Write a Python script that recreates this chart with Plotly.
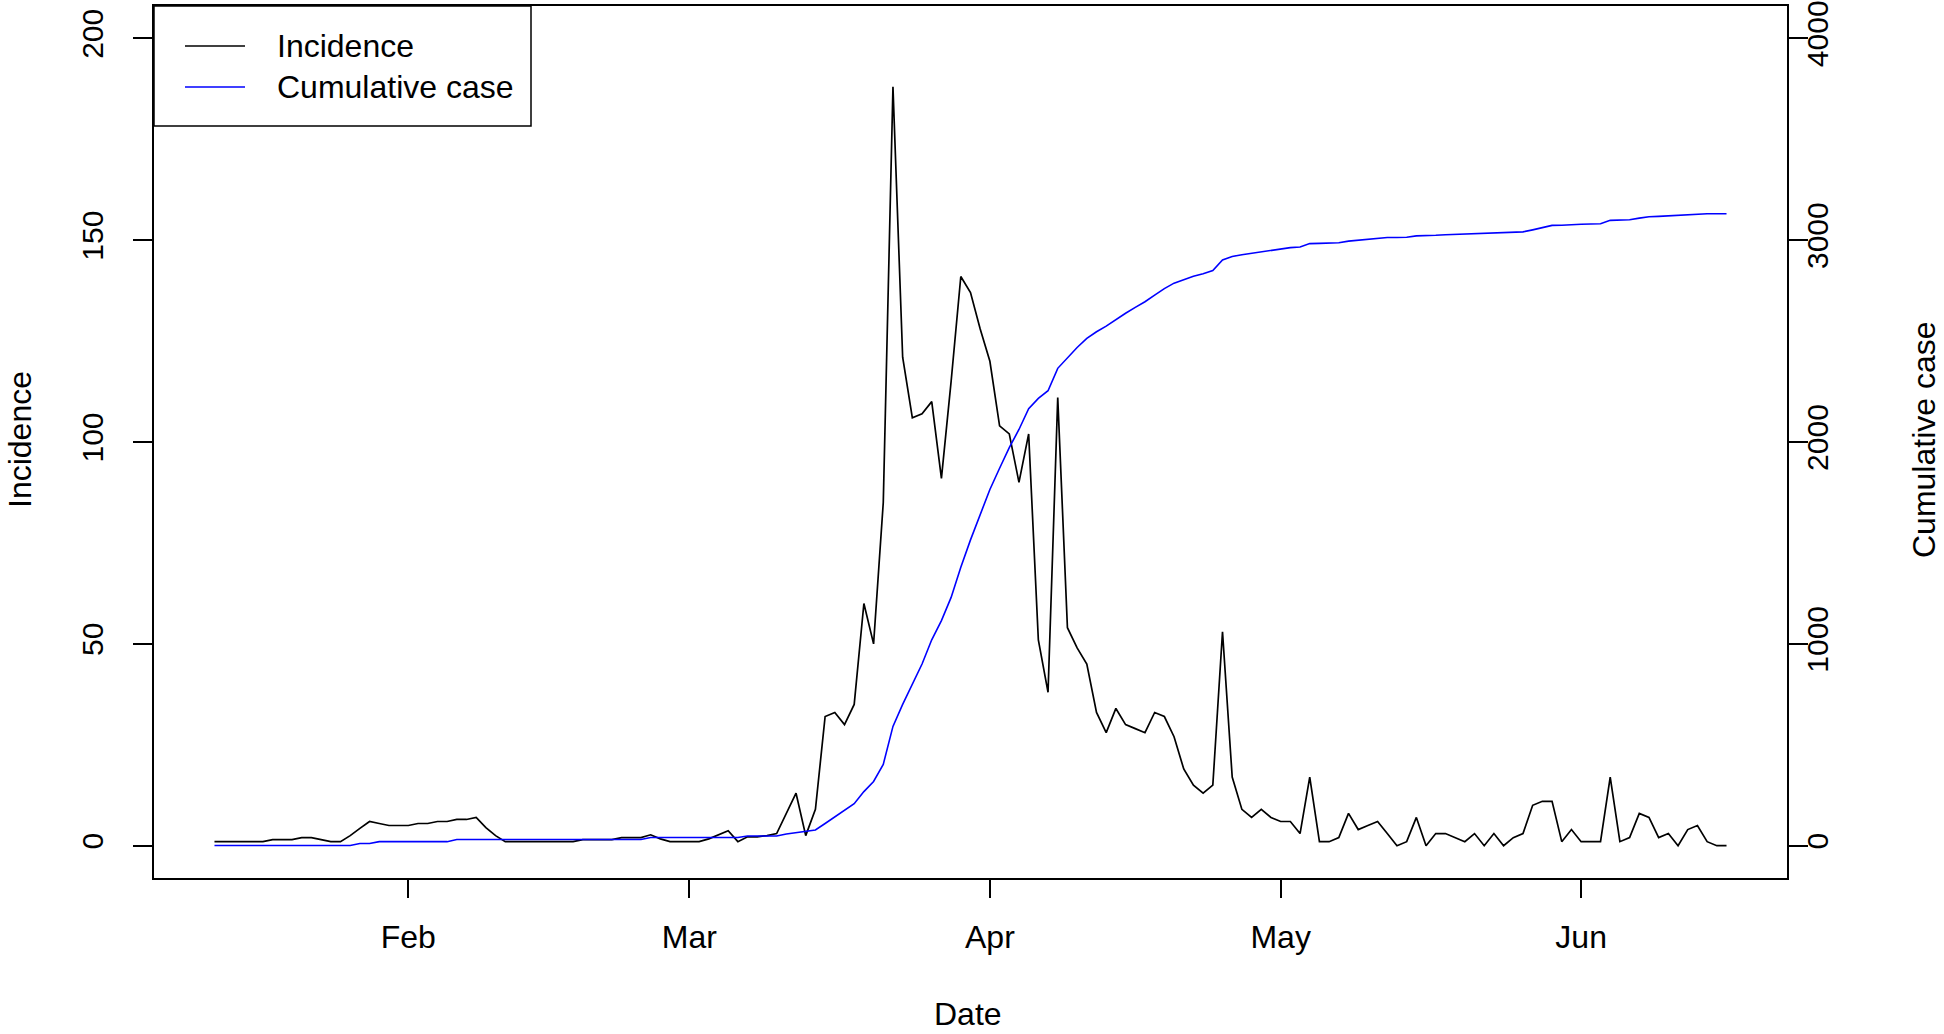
import pandas as pd
import plotly.graph_objects as go

# daily series, 2020-01-12 .. 2020-06-16
dates = pd.date_range("2020-01-12", "2020-06-16", freq="D")

incidence = (
    [1, 1, 1, 1, 1, 1, 1.5, 1.5, 1.5, 2, 2, 1.5, 1, 1, 2.5, 4.3, 6, 5.5, 5, 5]
    + [5, 5.5, 5.5, 6, 6, 6.5, 6.5, 7, 4.5, 2.5, 1, 1, 1, 1, 1, 1, 1, 1, 1.5, 1.5]
    + [1.5, 1.5, 2, 2, 2, 2.7, 1.7, 1, 1, 1, 1, 1.7, 2.7, 3.7, 1, 2.2, 2.2, 2.5, 3, 8]
    + [13, 2.5, 9, 32, 33, 30, 35, 60, 50, 85, 188, 121, 106, 107, 110, 91, 115, 141, 137, 128]
    + [120, 104, 102, 90, 102, 51, 38, 111, 54, 49, 45, 33, 28, 34, 30, 29, 28, 33, 32, 27]
    + [19, 15, 13, 15, 53, 17, 9, 7, 9, 7, 6, 6, 3, 17, 1, 1, 2, 8, 4, 5]
    + [6, 3, 0, 1, 7, 0, 3, 3, 2, 1, 3, 0, 3, 0, 2, 3, 10, 11, 11, 1]
    + [4, 1, 1, 1, 17, 1, 2, 8, 7, 2, 3, 0, 4, 5, 1, 0, 0]
)

cumulative = (
    [1] * 15 + [11] * 2 + [20] * 8 + [31] * 20 + [41] * 10 + [48] * 4
    + [58, 65, 70, 78, 110, 143, 173, 208, 268, 318, 403, 591, 700, 800, 900, 1020, 1115, 1230, 1380, 1515]
    + [1645, 1765, 1870, 1972, 2062, 2165, 2216, 2254, 2365, 2419, 2468, 2513, 2546, 2574, 2608, 2638, 2667, 2695, 2728, 2760]
    + [2787, 2806, 2821, 2834, 2849, 2902, 2919, 2928, 2935, 2944, 2951, 2957, 2963, 2966, 2983, 2984, 2985, 2987, 2995, 2999]
    + [3004, 3010, 3013, 3013, 3014, 3021, 3021, 3024, 3027, 3029, 3030, 3033, 3033, 3036, 3036, 3038, 3041, 3051, 3062, 3073]
    + [3074, 3078, 3079, 3080, 3081, 3098, 3099, 3101, 3109, 3116, 3118, 3121, 3121, 3125, 3130, 3131, 3131, 3131]
)

month_ticks = ["2020-02-01", "2020-03-01", "2020-04-01", "2020-05-01", "2020-06-01"]
month_labels = ["Feb", "Mar", "Apr", "May", "Jun"]
inc_ticks = [0, 50, 100, 150, 200]
cum_ticks = [0, 1000, 2000, 3000, 4000]

assert len(incidence) == len(dates) == len(cumulative)

FONT = "Liberation Sans, Arial, sans-serif"
W, H = 1944, 1034
L, R, T, B = 154, 157, 6, 156
pw, ph = W - L - R, H - T - B


def px(x):
    return (x - L) / pw


def py(y):
    return (H - B - y) / ph


fig = go.Figure()
fig.add_trace(
    go.Scatter(
        x=dates, y=incidence, mode="lines", name="Incidence",
        line=dict(color="black", width=1.7),
    )
)
fig.add_trace(
    go.Scatter(
        x=dates, y=cumulative, mode="lines", name="Cumulative case",
        line=dict(color="#0000ff", width=1.6), yaxis="y2",
    )
)

axis_common = dict(
    showgrid=False, zeroline=False, showline=True, linecolor="black", linewidth=1.5,
    ticks="outside", tickcolor="black", tickwidth=1.5,
    ticklabeloverflow="allow", automargin=False,
)
x_font = dict(family=FONT, size=32, color="black")
y_font = dict(family=FONT, size=30, color="black")

fig.update_layout(
    width=W, height=H,
    margin=dict(l=L, r=R, t=T, b=B, autoexpand=False),
    paper_bgcolor="white", plot_bgcolor="white",
    showlegend=False,
    xaxis=dict(
        **axis_common, mirror=True, ticklen=18, ticklabelstandoff=12, tickfont=x_font,
        range=["2020-01-05 18:14", "2020-06-22 05:45"],
        tickvals=month_ticks, ticktext=month_labels,
    ),
    yaxis=dict(
        **axis_common, mirror=True, ticklen=19, ticklabelstandoff=18, tickfont=y_font,
        range=[-8, 208], tickvals=inc_ticks, tickangle=-90,
    ),
    yaxis2=dict(
        **axis_common, overlaying="y", side="right", ticklen=19, ticklabelstandoff=-16,
        tickfont=y_font, range=[-160, 4160], tickvals=cum_ticks, tickangle=-90,
    ),
)

# axis titles, kept inside the page edges
title_font = dict(family=FONT, size=32, color="black")
fig.add_annotation(text="Date", xref="paper", yref="paper", x=px(968), y=py(H),
                   showarrow=False, font=title_font, xanchor="center", yanchor="bottom")
fig.add_annotation(text="Incidence", xref="paper", yref="paper", x=px(0), y=py(440),
                   showarrow=False, font=title_font, textangle=-90, xanchor="left", yanchor="middle")
fig.add_annotation(text="Cumulative case", xref="paper", yref="paper", x=px(W), y=py(440),
                   showarrow=False, font=title_font, textangle=-90, xanchor="right", yanchor="middle")

# legend box in the top-left corner, R style
fig.add_shape(type="rect", xref="paper", yref="paper", x0=0, x1=px(531), y0=py(126), y1=1,
              line=dict(color="black", width=1.5), fillcolor="white")
for row_y, name, color in [(46, "Incidence", "black"), (87, "Cumulative case", "#0000ff")]:
    fig.add_shape(type="line", xref="paper", yref="paper", x0=px(185), x1=px(245),
                  y0=py(row_y), y1=py(row_y), line=dict(color=color, width=1.6))
    fig.add_annotation(text=name, xref="paper", yref="paper", x=px(275), y=py(row_y),
                       showarrow=False, font=title_font, xanchor="left", yanchor="middle")

# drop the default page margin so the figure sits at the window's corner
fig.write_html(
    "out.html",
    config={"displayModeBar": False},
    post_script="document.body.style.margin='0px';",
)
